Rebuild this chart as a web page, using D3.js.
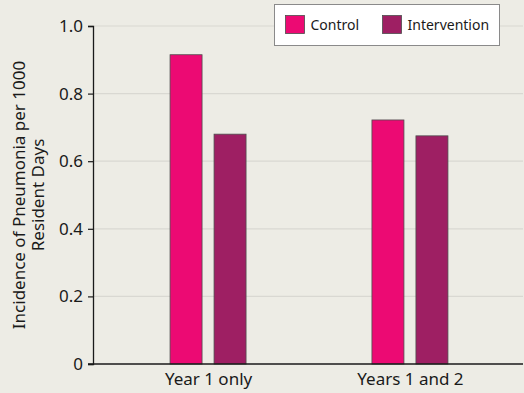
<!DOCTYPE html>
<html>
<head>
<meta charset="utf-8">
<script src="https://cdn.jsdelivr.net/npm/d3@7"></script>
<style>
  html, body { margin: 0; padding: 0; background: #edece5; }
  svg { display: block; font-family: "Noto Sans", sans-serif; }
</style>
</head>
<body>
<svg id="chart" width="524" height="393"></svg>
<script>
// Pneumonia incidence per 1000 resident days, by period and study arm
const periods = ["Year 1 only", "Years 1 and 2"];
const arms = ["Control", "Intervention"];
const controlValues = [0.915, 0.722];
const interventionValues = [0.680, 0.675];
const yTicks = [0, 0.2, 0.4, 0.6, 0.8, 1.0];
const armColors = ["#ec0a73", "#9e1f63"];

const rows = periods.map((p, i) => ({
  period: p,
  values: [
    { arm: arms[0], value: controlValues[i] },
    { arm: arms[1], value: interventionValues[i] }
  ]
}));

const svg = d3.select("#chart");
const margin = { left: 93, right: 1, top: 26, bottom: 29 };
const W = 524, H = 393;

const x = d3.scalePoint()
  .domain(periods)
  .range([margin.left + 2, W - margin.right])
  .padding(0.56);

const y = d3.scaleLinear()
  .domain([0, 1.0])
  .range([H - margin.bottom, margin.top]);

const color = d3.scaleOrdinal().domain(arms).range(armColors);

const barWidth = 32;
const barGap = 12;
const xArm = d3.scaleBand()
  .domain(arms)
  .range([-(barWidth + barGap / 2), barWidth + barGap / 2])
  .paddingInner(barGap / (barWidth + barGap));

// gridlines
svg.append("g")
  .selectAll("line")
  .data(yTicks.filter(t => t > 0))
  .join("line")
  .attr("x1", margin.left)
  .attr("x2", W - margin.right)
  .attr("y1", d => y(d))
  .attr("y2", d => y(d))
  .attr("stroke", "#d9d8d2")
  .attr("stroke-width", 1.2);

// bars
const groups = svg.append("g")
  .selectAll("g")
  .data(rows)
  .join("g")
  .attr("transform", d => `translate(${x(d.period)},0)`);

groups.selectAll("rect")
  .data(d => d.values)
  .join("rect")
  .attr("x", d => xArm(d.arm))
  .attr("width", xArm.bandwidth())
  .attr("y", d => y(d.value))
  .attr("height", d => y(0) - y(d.value))
  .attr("fill", d => color(d.arm))
  .attr("stroke", "#4d4d4d")
  .attr("stroke-width", 0.8);

// y axis
const yAxis = svg.append("g")
  .attr("transform", `translate(${margin.left},0)`)
  .call(d3.axisLeft(y)
    .tickValues(yTicks)
    .tickSize(5)
    .tickPadding(5)
    .tickFormat(d => d === 0 ? "0" : d3.format(".1f")(d)));
yAxis.select(".domain").attr("stroke", "#1a1a1a").attr("stroke-width", 1.3);
yAxis.selectAll(".tick line").attr("stroke", "#1a1a1a").attr("stroke-width", 1.2);
yAxis.selectAll(".tick text")
  .attr("fill", "#1a1a1a")
  .style("font-size", "17px")
  .style("font-family", "'Noto Sans', sans-serif");

// x axis
const xAxis = svg.append("g")
  .attr("transform", `translate(0,${y(0)})`)
  .call(d3.axisBottom(x).tickSize(0).tickPadding(9));
xAxis.select(".domain")
  .attr("d", `M${margin.left - 5},0H${W - margin.right}`)
  .attr("stroke", "#1a1a1a")
  .attr("stroke-width", 1.3);
xAxis.selectAll(".tick text")
  .attr("fill", "#1a1a1a")
  .style("font-size", "17px")
  .style("font-family", "'Noto Sans', sans-serif");

// y axis title
const title = svg.append("text")
  .attr("transform", `translate(25,${(y(0) + y(1)) / 2}) rotate(-90)`)
  .attr("text-anchor", "middle")
  .attr("fill", "#1a1a1a")
  .style("font-size", "17px");
title.append("tspan").attr("x", 0).attr("dy", 0).text("Incidence of Pneumonia per 1000");
title.append("tspan").attr("x", 0).attr("dy", 18.5).text("Resident Days");

// legend
const legend = svg.append("g").attr("transform", "translate(274.5,4.5)");
legend.append("rect")
  .attr("width", 225)
  .attr("height", 41)
  .attr("fill", "#ffffff")
  .attr("stroke", "#8a8a8a")
  .attr("stroke-width", 1);
const legendX = [11, 108];
const items = legend.selectAll("g.item")
  .data(arms)
  .join("g")
  .attr("class", "item")
  .attr("transform", (d, i) => `translate(${legendX[i]},11)`);
items.append("rect")
  .attr("width", 19)
  .attr("height", 18)
  .attr("fill", d => color(d))
  .attr("stroke", "#4d4d4d")
  .attr("stroke-width", 0.8);
items.append("text")
  .attr("x", 25)
  .attr("y", 14.5)
  .attr("fill", "#1a1a1a")
  .style("font-size", "14px")
  .text(d => d);
</script>
</body>
</html>
